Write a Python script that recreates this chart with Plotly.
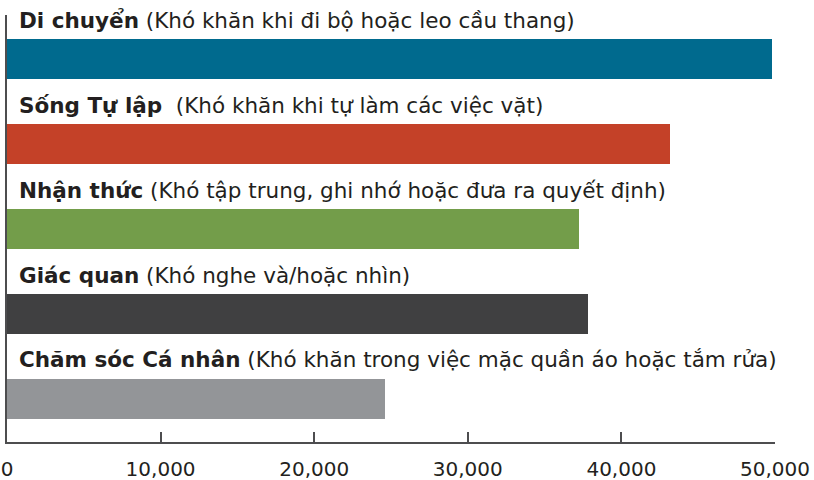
import plotly.graph_objects as go

categories = ["Di chuyển", "Sống Tự lập", "Nhận thức", "Giác quan", "Chăm sóc Cá nhân"]
descriptions = [
    "(Khó khăn khi đi bộ hoặc leo cầu thang)",
    " (Khó khăn khi tự làm các việc vặt)",
    "(Khó tập trung, ghi nhớ hoặc đưa ra quyết định)",
    "(Khó nghe và/hoặc nhìn)",
    "(Khó khăn trong việc mặc quần áo hoặc tắm rửa)",
]
values = [49800, 43150, 37250, 37850, 24600]
colors = ["#006A8E", "#C44128", "#739D4A", "#404041", "#939598"]
tick_vals = [0, 10000, 20000, 30000, 40000, 50000]
tick_text = ["0", "10,000", "20,000", "30,000", "40,000", "50,000"]

FONT = "DejaVu Sans"
TEXT_COLOR = "#231F20"

fig = go.Figure()
fig.add_trace(go.Bar(
    x=values, y=categories, orientation="h",
    marker=dict(color=colors, line=dict(width=0)),
    width=0.46, hoverinfo="skip",
))

for cat, desc in zip(categories, descriptions):
    fig.add_annotation(
        x=0, y=cat, xref="x", yref="y",
        text=f"<b>{cat}</b> {desc}",
        showarrow=False, xanchor="left", yanchor="middle",
        xshift=10, yshift=39,
        font=dict(family=FONT, size=21.5, color=TEXT_COLOR),
    )

fig.update_layout(
    width=814, height=480,
    margin=dict(l=7, r=39, t=15, b=38),
    paper_bgcolor="white", plot_bgcolor="white",
    showlegend=False,
    font=dict(family=FONT, color=TEXT_COLOR),
    bargap=0,
)
fig.update_xaxes(
    range=[0, 50000], tickvals=tick_vals, ticktext=tick_text,
    ticks="inside", ticklen=10, tickwidth=2, tickcolor="#4D4D4F",
    showline=True, linecolor="#4D4D4F", linewidth=2,
    showgrid=False, zeroline=False, automargin=False,
    tickfont=dict(family=FONT, size=20, color=TEXT_COLOR),
    ticklabelstandoff=8,
)
fig.update_yaxes(
    categoryorder="array", categoryarray=categories,
    range=[4.506, -0.518], automargin=False,
    showticklabels=False, ticks="",
    showline=True, linecolor="#4D4D4F", linewidth=2,
    showgrid=False, zeroline=False,
)

fig.write_html("out.html", config={"displayModeBar": False},
               post_script="document.body.style.margin='0px';")
